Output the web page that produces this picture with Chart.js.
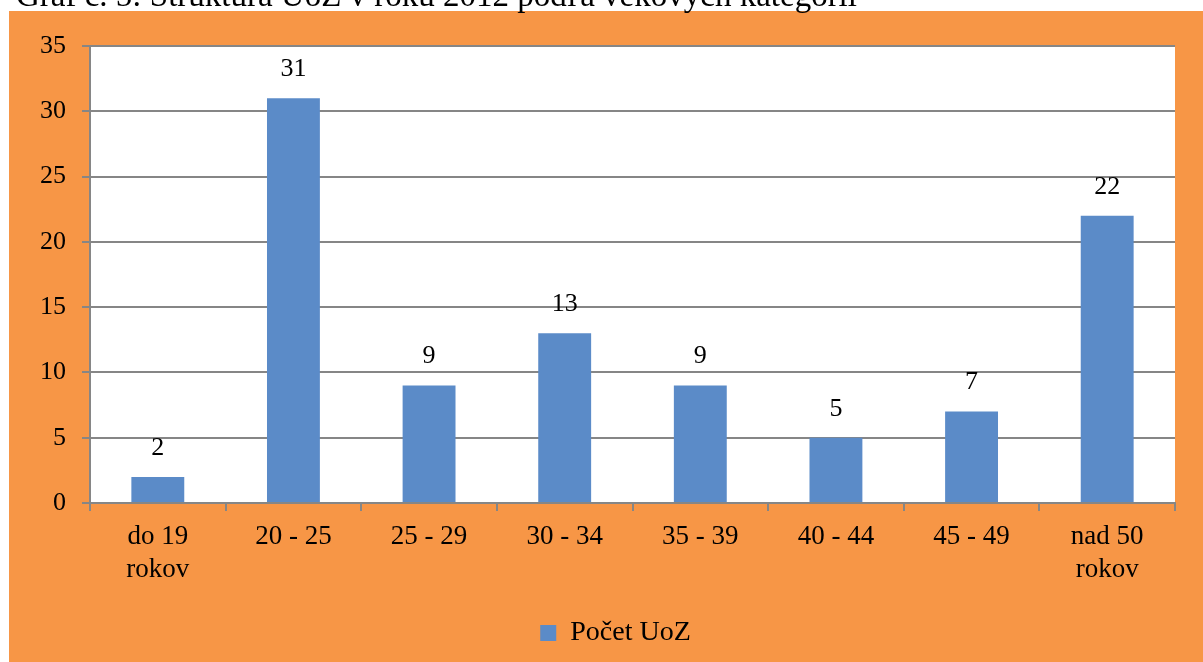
<!DOCTYPE html>
<html>
<head>
<meta charset="utf-8">
<script src="https://cdn.jsdelivr.net/npm/chart.js@4"></script>
<style>
  html, body { margin: 0; padding: 0; background: #ffffff; }
  #wrap { width: 1203px; height: 662px; position: relative; }
</style>
</head>
<body>
<div id="wrap"><canvas id="graf" width="1203" height="662"></canvas></div>
<script>
// data
const kategorie = [['do 19', 'rokov'], '20 - 25', '25 - 29', '30 - 34', '35 - 39', '40 - 44', '45 - 49', ['nad 50', 'rokov']];
const pocetUoZ = [2, 31, 9, 13, 9, 5, 7, 22];
const nazovSerie = 'Počet UoZ';
const nadpis = 'Graf č. 5: Štruktúra UoZ v roku 2012 podľa vekových kategórií';

const PISMO = "'Liberation Serif', 'DejaVu Serif', serif";
const ORANZOVA = '#F79646';
const MODRA = '#5B8BC8';
const SIVA = '#868686';

// pozadie, nadpis a hodnoty nad stlpcami
const pozadie = {
    id: 'pozadie',
    afterLayout(chart) {
        // legenda je v originale trochu vpravo od stredu
        const leg = chart.legend;
        if (leg) { leg.left += 28; leg.right += 28; }
    },
    beforeDraw(chart) {
        const ctx = chart.ctx;
        const a = chart.chartArea;
        ctx.save();
        ctx.fillStyle = '#ffffff';
        ctx.fillRect(0, 0, chart.width, chart.height);
        ctx.fillStyle = ORANZOVA;
        ctx.fillRect(9, 11, chart.width - 9, chart.height - 11);
        ctx.fillStyle = '#ffffff';
        ctx.fillRect(a.left, a.top, a.right - a.left, a.bottom - a.top);
        ctx.fillStyle = '#000000';
        ctx.font = '33px ' + PISMO;
        ctx.textBaseline = 'alphabetic';
        ctx.textAlign = 'left';
        ctx.fillText(nadpis, 16, 6);
        ctx.restore();
    },
    afterDatasetsDraw(chart) {
        const ctx = chart.ctx;
        const meta = chart.getDatasetMeta(0);
        ctx.save();
        ctx.fillStyle = '#000000';
        ctx.font = '26px ' + PISMO;
        ctx.textAlign = 'center';
        ctx.textBaseline = 'bottom';
        meta.data.forEach((bar, i) => {
            ctx.fillText(String(pocetUoZ[i]), bar.x, bar.y - 16);
        });
        ctx.restore();
    }
};

const ctx = document.getElementById('graf').getContext('2d');
const graf = new Chart(ctx, {
    type: 'bar',
    data: {
        labels: kategorie,
        datasets: [{
            label: nazovSerie,
            data: pocetUoZ,
            backgroundColor: MODRA,
            borderWidth: 0,
            categoryPercentage: 1,
            barPercentage: 0.39
        }]
    },
    options: {
        responsive: false,
        animation: false,
        layout: { padding: { left: 0, right: 28, top: 46, bottom: 5 } },
        scales: {
            x: {
                afterFit: (s) => { s.height = 108; },
                grid: { drawOnChartArea: false, drawTicks: true, tickLength: 8, color: SIVA, lineWidth: 2, offset: true },
                border: { color: SIVA, width: 2 },
                ticks: { color: '#000000', font: { family: PISMO, size: 27, lineHeight: 1.2 }, padding: 10, maxRotation: 0 }
            },
            y: {
                min: 0,
                max: 35,
                afterFit: (s) => { s.width = 90; },
                grid: { color: SIVA, lineWidth: 2, tickLength: 8 },
                border: { color: SIVA, width: 2 },
                ticks: { stepSize: 5, color: '#000000', font: { family: PISMO, size: 26 }, padding: 16 }
            }
        },
        plugins: {
            legend: {
                position: 'bottom',
                labels: { color: '#000000', font: { family: PISMO, size: 28 }, boxWidth: 16, boxHeight: 16, padding: 8 }
            },
            tooltip: { enabled: false }
        }
    },
    plugins: [pozadie]
});
</script>
</body>
</html>
